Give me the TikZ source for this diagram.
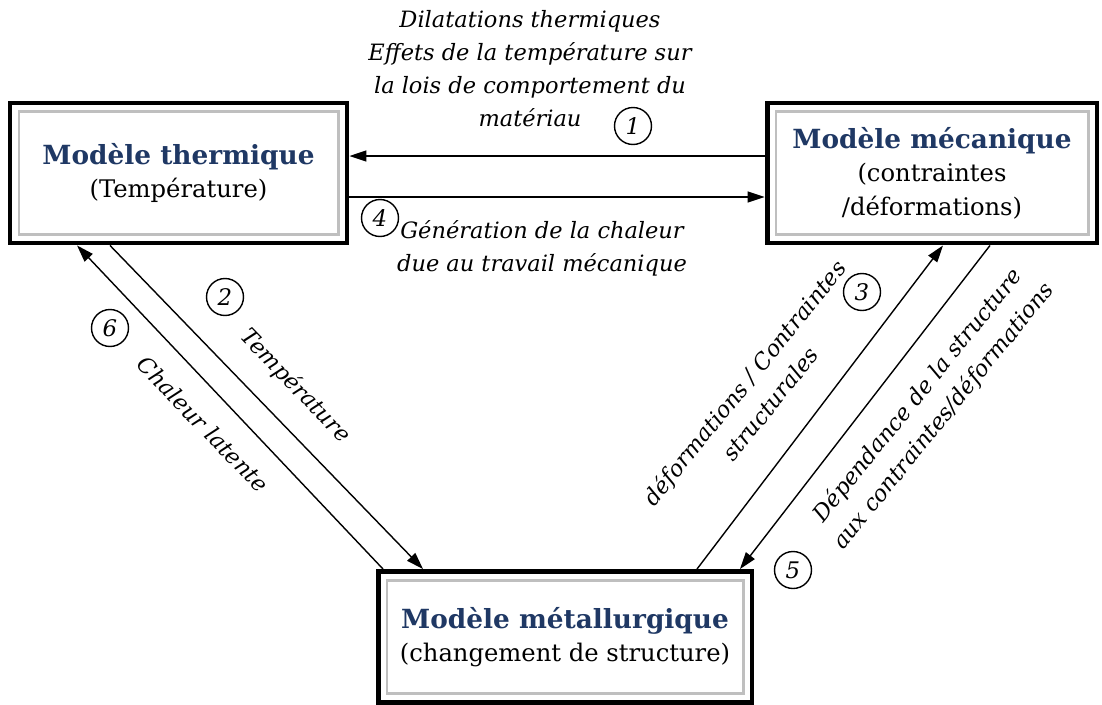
\documentclass[tikz,border=0pt]{standalone}
\usepackage{fontspec}
\setmainfont{DejaVu Serif}
\usetikzlibrary{arrows.meta}
\definecolor{titleblue}{HTML}{1F3864}
\newcommand{\modtitle}[1]{{\fontsize{15}{19}\selectfont\bfseries\color{titleblue}#1}}

\begin{document}
\begin{tikzpicture}[x=0.02cm, y=-0.02cm,
        model/.style={draw=black, line width=2.8pt, fill=white, align=center, inner sep=0pt, font=\fontsize{13.8}{19}\selectfont},
        innerframe/.style={draw=gray!50, line width=1.7pt},
        flow/.style={-{Triangle[length=3.4mm, width=2.2mm]}, line width=0.8pt},
        lbl/.style={align=center, inner sep=0pt, font=\fontsize{12.8}{18.8}\selectfont\itshape},
        num/.style={draw, circle, line width=0.8pt, minimum size=0.74cm, inner sep=0pt, font=\fontsize{13}{15}\selectfont\itshape}
    ]
        \useasboundingbox (0,0) rectangle (1102,704);

        % Models
        \node[model, minimum width=6.74cm, minimum height=2.8cm] (th) at (178.5,173) {\modtitle{Modèle thermique}\\(Température)};
        \node[model, minimum width=6.6cm, minimum height=2.8cm] (me) at (932,173) {\modtitle{Modèle mécanique}\\(contraintes\\/déformations)};
        \node[model, minimum width=7.48cm, minimum height=2.62cm] (mt) at (565,637) {\modtitle{Modèle métallurgique}\\(changement de structure)};
        \foreach \b in {th,me,mt}
            \draw[innerframe] ([shift={(6.5pt,6.5pt)}]\b.south west) rectangle ([shift={(-6.5pt,-6.5pt)}]\b.north east);

        % Couplings
        \draw[flow] ([yshift=0.34cm]me.west) -- ([yshift=0.34cm]th.east);
        \draw[flow] ([yshift=-0.48cm]th.east) -- ([yshift=-0.48cm]me.west);
        \draw[flow] ([xshift=-1.37cm]th.south) -- ([xshift=-2.84cm]mt.north);
        \draw[flow] ([xshift=-3.64cm]mt.north) -- ([xshift=-2.03cm]th.south);
        \draw[flow] ([xshift=2.64cm]mt.north) -- ([xshift=0.22cm]me.south);
        \draw[flow] ([xshift=1.16cm]me.south) -- ([xshift=3.5cm]mt.north);

        % Labels
        \node[lbl] (dil) at (530,69) {Dilatations thermiques\\Effets de la température sur\\la lois de comportement du\\matériau};
        \node[lbl] (gen) at (542,248) {Génération de la chaleur\\due au travail mécanique};
        \node[lbl, rotate=-46] (tmp) at (295,386) {Température};
        \node[lbl, rotate=-46] (chl) at (203,424) {Chaleur latente};
        \node[lbl, rotate=51] (def) at (757,393) {déformations / Contraintes\\structurales};
        \node[lbl, rotate=51] (dep) at (931,406) {Dépendance de la structure\\aux contraintes/déformations};

        % Numbers
        \node[num] (n1) at (633,126) {1};
        \node[num] (n2) at (225,297) {2};
        \node[num] (n3) at (862,292) {3};
        \node[num] (n4) at (380,218) {4};
        \node[num] (n5) at (793,570) {5};
        \node[num] (n6) at (110,328) {6};
    \end{tikzpicture}
\end{document}
